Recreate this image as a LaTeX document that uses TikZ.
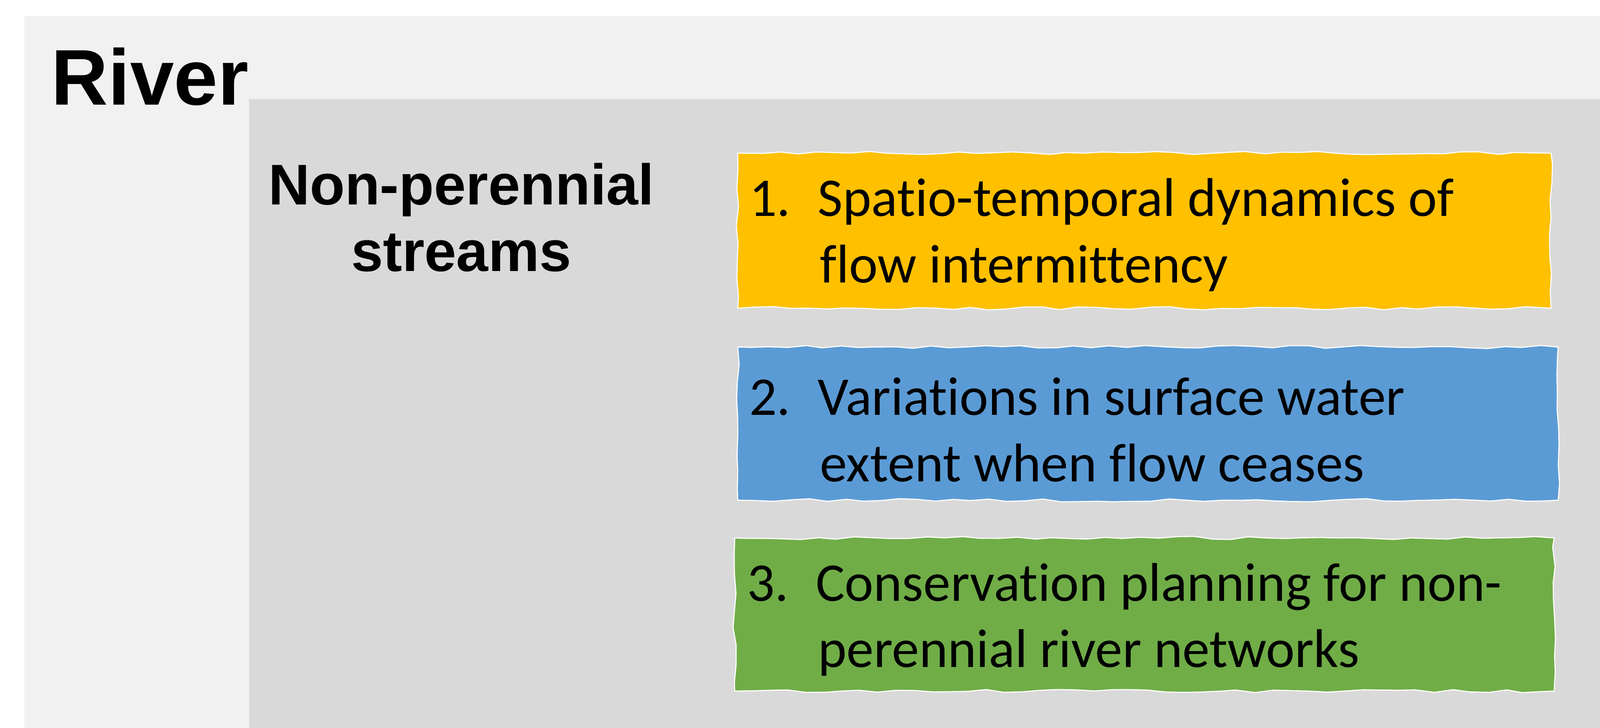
\documentclass[tikz,border=0pt]{standalone}
\usepackage{fontspec}
\setmainfont{Carlito}[Ligatures={NoCommon}]
\newfontfamily\arialb{Liberation Sans}[BoldFont={* Bold}]
\usetikzlibrary{decorations.pathmorphing}
\definecolor{outerg}{HTML}{F1F1F1}
\definecolor{innerg}{HTML}{D9D9D9}
\definecolor{yel}{HTML}{FFC000}
\definecolor{blu}{HTML}{5B9BD5}
\definecolor{grn}{HTML}{70AD47}
\tikzset{
  rough/.style={fill=#1,draw=white,line width=0.6pt,decorate,decoration={random steps,segment length=10pt,amplitude=0.9pt}},
  itemtext/.style={anchor=west,align=left,font=\fontsize{30.4}{37}\selectfont,text=black}
}
\begin{document}
\begin{tikzpicture}[x=0.02cm,y=-0.02cm]
\useasboundingbox (0,0) rectangle (1568,713);
\fill[white] (0,0) rectangle (1568,713);
\fill[outerg] (24,16) rectangle (1568,713);
\fill[innerg] (244,97) rectangle (1568,713);
\node[anchor=west,font=\arialb\bfseries\fontsize{44}{50}\selectfont] (river) at (44,75) {River};
\node[align=center,font=\arialb\bfseries\fontsize{32}{37}\selectfont] (np) at (452,213) {Non-perennial\\streams};
\path[rough=yel] (723,150) rectangle (1520,302);
\path[rough=blu] (723,340) rectangle (1527,490);
\path[rough=grn] (720,527) rectangle (1523,677);
\node[itemtext] (t1) at (728,230) {1.\hspace{0.5em}Spatio-temporal dynamics of\\\hspace{1.3em}flow intermittency};
\node[itemtext] (t2) at (728,421) {2.\hspace{0.5em}Variations in surface water\\\hspace{1.3em}extent when flow ceases};
\node[itemtext] (t3) at (726,607) {3.\hspace{0.5em}Conservation planning for non-\\\hspace{1.3em}perennial river networks};
\end{tikzpicture}
\end{document}
